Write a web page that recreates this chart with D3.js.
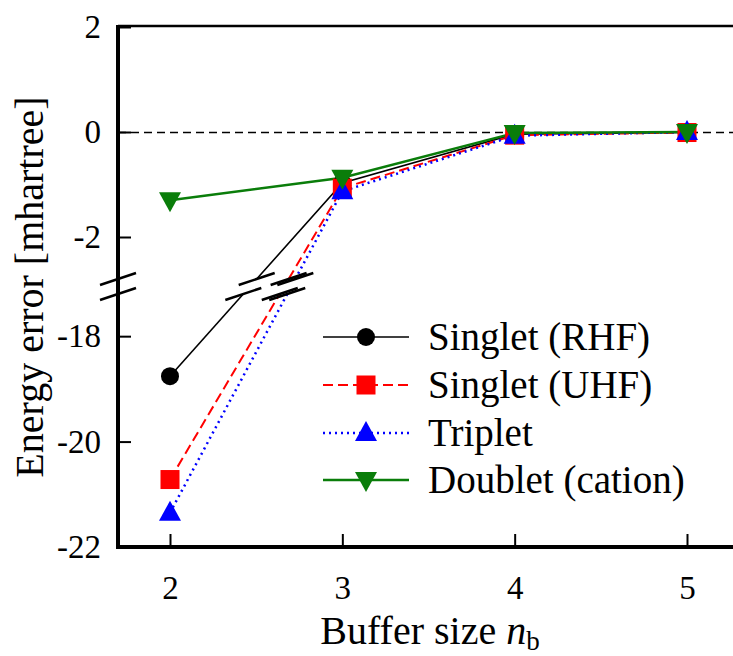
<!DOCTYPE html>
<html>
<head>
<meta charset="utf-8">
<script src="https://cdn.jsdelivr.net/npm/d3@7.9.0/dist/d3.min.js"></script>
<style>
  body { margin: 0; background: #fff; }
  svg { display: block; }
  svg text { font-family: "Liberation Serif", "Times New Roman", serif; }
</style>
</head>
<body>
<svg width="733" height="656"></svg>
<script>
const bufferSizes = [2, 3, 4, 5];
const singletRHF = [-18.76, -0.97, -0.04, -0.01];
const singletUHF = [-20.72, -1.07, -0.06, -0.01];
const triplet = [-21.35, -1.13, -0.07, 0.0];
const doublet = [-1.30, -0.87, -0.02, 0.0];
const topTicks = [2, 0, -2];
const bottomTicks = [-18, -20, -22];
const xTicks = [2, 3, 4, 5];

const series = [
  { name: 'Singlet (RHF)', values: singletRHF, color: '#000', width: 1.6, dash: null, marker: 'circle' },
  { name: 'Singlet (UHF)', values: singletUHF, color: '#f00', width: 2, dash: '10,5', marker: 'square' },
  { name: 'Triplet', values: triplet, color: '#00f', width: 2.5, dash: '2,4', marker: 'triangle' },
  { name: 'Doublet (cation)', values: doublet, color: '#0a7d0a', width: 2.5, dash: null, marker: 'triangleDown' }
];

const svg = d3.select('svg');
const left = 118, right = 760, bottom = 547;

const x = d3.scaleLinear().domain([2, 5]).range([170, 687]);
// broken axis: two linear pieces
const yTop = d3.scaleLinear().domain([-2.8, 2]).range([279, 27]);
const yBot = d3.scaleLinear().domain([-22, -17.2]).range([bottom, 294]);
const breakTop = yTop(-2.8), breakBot = yBot(-17.2);
const y = (v) => (v > -10 ? yTop(v) : yBot(v));

// zero line
svg.append('line')
  .attr('x1', left).attr('x2', right)
  .attr('y1', Math.round(yTop(0)) + 0.5).attr('y2', Math.round(yTop(0)) + 0.5)
  .attr('stroke', '#000').attr('stroke-width', 1.5)
  .attr('stroke-dasharray', '8,5');

// data lines, with a gap across the break
function slash(g, cx, cy) {
  g.append('line')
    .attr('x1', cx - 18).attr('y1', cy + 6)
    .attr('x2', cx + 18).attr('y2', cy - 6)
    .attr('stroke', '#000').attr('stroke-width', 2.5);
}

const lineGen = d3.line().x((d) => d[0]).y((d) => d[1]);
const slashes = svg.append('g');

series.forEach((s) => {
  const pts = s.values.map((v, i) => [x(bufferSizes[i]), y(v)]);
  let pieces = [[pts[0]]];
  for (let i = 1; i < pts.length; i++) {
    const a = pts[i - 1], b = pts[i];
    if (a[1] > breakBot && b[1] < breakTop) {
      const at = (yy) => a[0] + (b[0] - a[0]) * (yy - a[1]) / (b[1] - a[1]);
      const pBot = [at(breakBot), breakBot];
      const pTop = [at(breakTop), breakTop];
      pieces[pieces.length - 1].push(pBot);
      pieces.push([pTop]);
      slash(slashes, pBot[0], pBot[1]);
      slash(slashes, pTop[0], pTop[1]);
    }
    pieces[pieces.length - 1].push(b);
  }
  pieces.forEach((p) => {
    svg.append('path')
      .attr('d', lineGen(p))
      .attr('fill', 'none')
      .attr('stroke', s.color)
      .attr('stroke-width', s.width)
      .attr('stroke-dasharray', s.dash);
  });
  s.pts = pts;
});
slashes.raise();

function drawMarker(g, type, cx, cy, color) {
  if (type === 'circle') {
    g.append('circle').attr('cx', cx).attr('cy', cy).attr('r', 9).attr('fill', color);
  } else if (type === 'square') {
    g.append('rect').attr('x', cx - 9.5).attr('y', cy - 9.5).attr('width', 19).attr('height', 19).attr('fill', color);
  } else if (type === 'triangle') {
    g.append('path').attr('d', `M${cx},${cy - 12}L${cx + 11},${cy + 8}L${cx - 11},${cy + 8}Z`).attr('fill', color);
  } else {
    g.append('path').attr('d', `M${cx},${cy + 12}L${cx + 11},${cy - 8}L${cx - 11},${cy - 8}Z`).attr('fill', color);
  }
}

series.forEach((s) => {
  const g = svg.append('g');
  s.pts.forEach((p) => drawMarker(g, s.marker, p[0], p[1], s.color));
});

// frame
svg.append('line').attr('x1', left).attr('x2', right).attr('y1', 26).attr('y2', 26)
  .attr('stroke', '#000').attr('stroke-width', 2.5);
svg.append('line').attr('x1', left).attr('x2', left).attr('y1', 25).attr('y2', bottom + 2)
  .attr('stroke', '#000').attr('stroke-width', 4);
svg.append('line').attr('x1', left - 2).attr('x2', right).attr('y1', bottom).attr('y2', bottom)
  .attr('stroke', '#000').attr('stroke-width', 4);

// axis break on the left axis
slash(svg, left, breakTop);
slash(svg, left, breakBot);

// y axes (inward ticks)
const axisStyle = (g) => {
  g.attr('font-family', '"Liberation Serif", serif').attr('font-size', 33);
  g.select('.domain').remove();
  g.selectAll('.tick line').attr('stroke', '#000').attr('stroke-width', 2);
  g.selectAll('.tick text').attr('fill', '#000');
};
const fmt = (d) => String(d);

svg.append('g').attr('transform', `translate(${left},0)`)
  .call(d3.axisRight(yTop).tickValues(topTicks).tickSize(13).tickFormat(fmt))
  .call(axisStyle)
  .call((g) => g.selectAll('.tick text').attr('x', -17).attr('text-anchor', 'end'));
svg.append('g').attr('transform', `translate(${left},0)`)
  .call(d3.axisRight(yBot).tickValues(bottomTicks).tickSize(13).tickFormat(fmt))
  .call(axisStyle)
  .call((g) => g.selectAll('.tick text').attr('x', -17).attr('text-anchor', 'end'));

svg.append('g').attr('transform', `translate(0,${bottom})`)
  .call(d3.axisTop(x).tickValues(xTicks).tickSize(13).tickFormat(d3.format('d')))
  .call(axisStyle)
  .call((g) => g.selectAll('.tick text').attr('y', 52).attr('dy', 0));

// axis titles
svg.append('text')
  .attr('transform', 'translate(43,287) rotate(-90)')
  .attr('text-anchor', 'middle')
  .style('font-size', '40px')
  .text('Energy error [mhartree]');

const xt = svg.append('text')
  .attr('x', 430).attr('y', 644)
  .attr('text-anchor', 'middle')
  .style('font-size', '40px');
xt.append('tspan').text('Buffer size ');
xt.append('tspan').style('font-style', 'italic').text('n');
xt.append('tspan').attr('dy', 6).style('font-size', '27px').text('b');

// legend
const legendRows = [337, 385, 433, 480];
series.forEach((s, i) => {
  const g = svg.append('g');
  const ly = legendRows[i];
  g.append('line').attr('x1', 323).attr('x2', 409).attr('y1', ly).attr('y2', ly)
    .attr('stroke', s.color).attr('stroke-width', s.width).attr('stroke-dasharray', s.dash);
  drawMarker(g, s.marker, 366, ly, s.color);
  g.append('text').attr('x', 428).attr('y', ly + 13)
    .style('font-size', '39px').text(s.name);
});
</script>
</body>
</html>
